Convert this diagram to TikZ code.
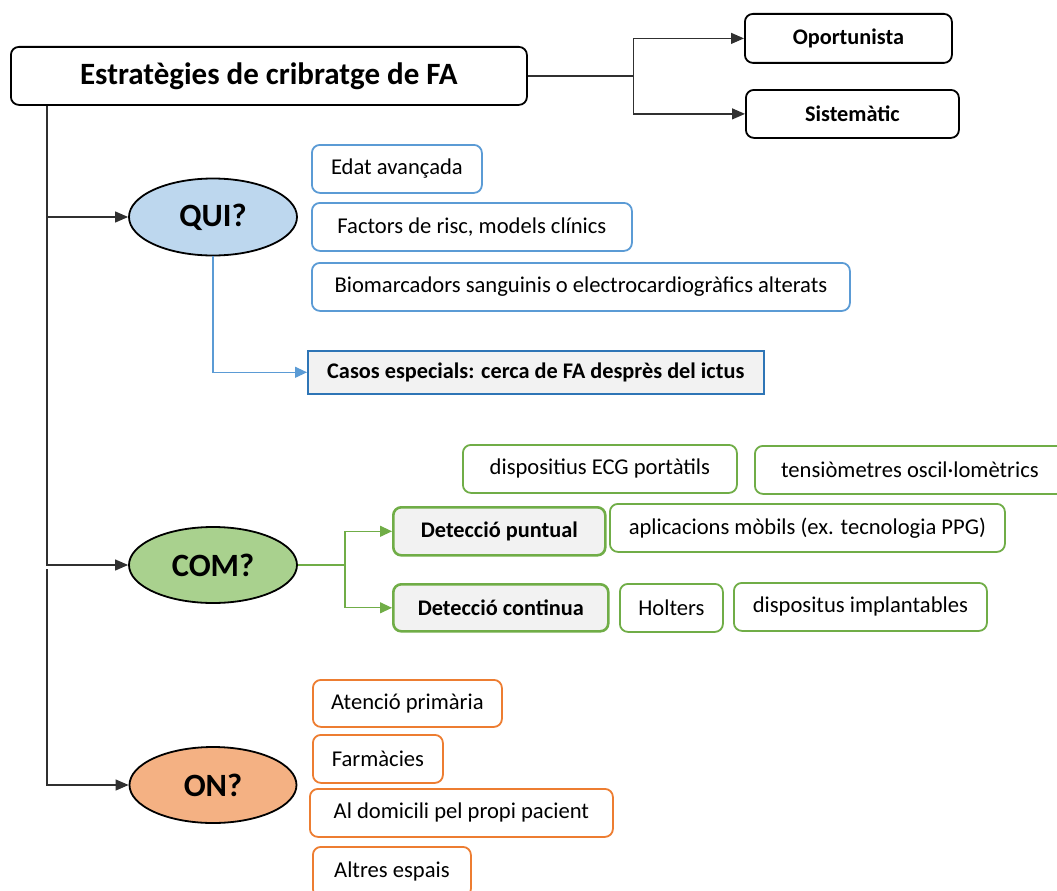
\documentclass[tikz,border=0pt]{standalone}
\usepackage{fontspec}
\setmainfont{Carlito}
\usetikzlibrary{arrows.meta,shapes.geometric}
\definecolor{blueline}{HTML}{5B9BD5}
\definecolor{bluedark}{HTML}{2E75B6}
\definecolor{greenline}{HTML}{70AD47}
\definecolor{orangeline}{HTML}{ED7D31}
\definecolor{quifill}{HTML}{BDD7EE}
\definecolor{comfill}{HTML}{A9D18E}
\definecolor{onfill}{HTML}{F4B183}
\definecolor{grayfill}{HTML}{F2F2F2}
\definecolor{connblack}{HTML}{303030}
\tikzset{
  txt/.style={font=\fontsize{22.6}{27}\selectfont},
  boldtxt/.style={font=\fontsize{22.3}{27}\selectfont\bfseries},
  basebox/.style={draw, rounded corners=8pt, fill=white, inner sep=0pt, anchor=north west, align=center},
  blackbox/.style={basebox, line width=1.8pt, draw=black, boldtxt},
  bluebox/.style={basebox, line width=1.8pt, draw=blueline, txt},
  greenbox/.style={basebox, line width=1.8pt, draw=greenline, txt},
  orangebox/.style={basebox, line width=1.8pt, draw=orangeline, txt},
  detbox/.style={basebox, line width=2.6pt, draw=greenline, fill=grayfill, boldtxt},
  casebox/.style={draw=bluedark, line width=1.6pt, fill=grayfill, inner sep=0pt, anchor=north west, boldtxt},
  ell/.style={ellipse, draw=black, line width=1.8pt, inner sep=0pt, font=\fontsize{32.5}{38}\selectfont\bfseries},
  tip/.style={-{Triangle[length=13pt,width=11pt]}},
  conn/.style={draw=connblack, line width=1.2pt},
  bconn/.style={draw=blueline, line width=1.2pt, -{Triangle[length=12pt,width=11pt]}, color=blueline},
  gconn/.style={draw=greenline, line width=1.2pt, -{Triangle[length=12pt,width=11pt]}, color=greenline},
}
\begin{document}
\begin{tikzpicture}[x=1pt,y=-1pt]
\useasboundingbox (0,0) rectangle (1057,891);
\clip (0,0) rectangle (1057,891);
% main
\node[blackbox, font=\fontsize{31}{37}\selectfont\bfseries, minimum width=516pt, minimum height=58pt] (main) at (10,46) {Estratègies de cribratge de FA};
\node[blackbox, minimum width=207pt, minimum height=49pt] (opo) at (744,13) {Oportunista};
\node[blackbox, minimum width=213pt, minimum height=48pt] (sis) at (745,89) {Sistemàtic};
% ellipses
\node[ell, fill=quifill, minimum width=168pt, minimum height=77pt] (qui) at (213,217) {QUI?};
\node[ell, fill=comfill, minimum width=168pt, minimum height=76pt] (com) at (213,565) {COM?};
\node[ell, fill=onfill, minimum width=167pt, minimum height=76pt] (on) at (213,785) {ON?};
% blue boxes
\node[bluebox, minimum width=170pt, minimum height=48pt] (edat) at (311,144) {Edat avançada};
\node[bluebox, minimum width=320pt, minimum height=48pt] (fact) at (311,202) {Factors de risc, models clínics};
\node[bluebox, minimum width=538pt, minimum height=48pt] (bio) at (311,262) {Biomarcadors sanguinis o electrocardiogràfics alterats};
\node[casebox, minimum width=456pt, minimum height=43pt] (casos) at (307,350) {Casos especials: cerca de FA desprès del ictus};
% green boxes
\node[greenbox, minimum width=274pt, minimum height=48pt] (ecg) at (462,444) {dispositius ECG portàtils};
\node[greenbox, minimum width=310pt, minimum height=48pt] (tens) at (754,445) {tensiòmetres oscil·lomètrics};
\node[detbox, minimum width=212pt, minimum height=48pt] (punt) at (392,506) {Detecció puntual};
\node[greenbox, minimum width=395pt, minimum height=48pt] (apl) at (609,503) {aplicacions mòbils (ex. tecnologia PPG)};
\node[detbox, minimum width=215pt, minimum height=47pt] (cont) at (392,583) {Detecció continua};
\node[greenbox, minimum width=103pt, minimum height=48pt] (holt) at (619,583) {Holters};
\node[greenbox, minimum width=253pt, minimum height=48pt] (impl) at (733,582) {dispositus implantables};
% orange boxes
\node[orangebox, minimum width=189pt, minimum height=47pt] (aten) at (312,679) {Atenció primària};
\node[orangebox, minimum width=130pt, minimum height=48pt] (farm) at (312,734) {Farmàcies};
\node[orangebox, minimum width=303pt, minimum height=48pt] (domi) at (309,788) {Al domicili pel propi pacient};
\node[orangebox, minimum width=158pt, minimum height=50pt] (altr) at (312,846) {Altres espais};
% connectors
\coordinate (br) at ([xshift=106pt]main.east);
\draw[conn] (main.east) -- (br);
\draw[conn, tip] (br) |- (opo.west);
\draw[conn, tip] (br) |- (sis.west);
\draw[conn, tip] ([xshift=37pt]main.south west) |- (qui.west);
\draw[conn, tip] ([xshift=37pt]main.south west) |- (com.west);
\coordinate (lowstart) at (47,569);
\draw[conn, tip] (lowstart) |- (on.west);
\draw[bconn] (qui.south) |- (casos.west);
\coordinate (gbr) at ([xshift=47pt]com.east);
\draw[greenline, line width=1.2pt] (com.east) -- (gbr);
\draw[gconn] (gbr) |- (punt.west);
\draw[gconn] (gbr) |- (cont.west);
\end{tikzpicture}
\end{document}
